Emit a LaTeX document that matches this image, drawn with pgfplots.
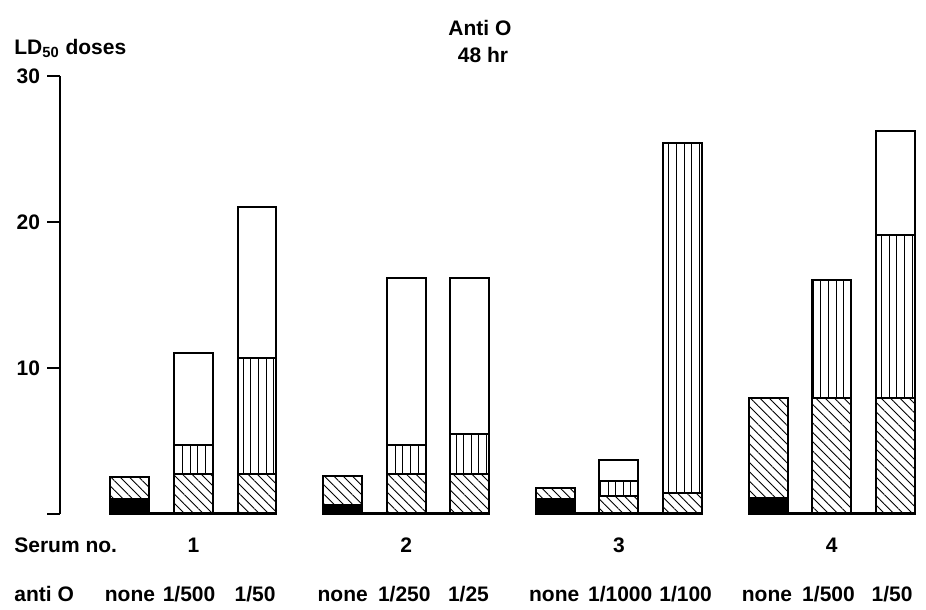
\documentclass[border=0pt]{standalone}
\usepackage{fontspec}
\setmainfont{Liberation Sans}
\usepackage{pgfplots}
\usepackage{pgfplotstable}
\pgfplotsset{compat=1.18}
\usetikzlibrary{patterns.meta}

\newcommand{\lbl}{\fontsize{10.5}{12.6}\selectfont\bfseries}

% x: bar position, then the four stacked parts of each bar
\pgfplotstableread{
x     black hatch vert  white
0     1.0   1.5   0     0
1     0     2.7   2.0   6.35
2     0     2.7   7.95  10.4
3.35  0.6   2.0   0     0
4.35  0     2.7   2.0   11.45
5.35  0     2.7   2.8   10.65
6.7   1.0   0.8   0     0
7.7   0     1.25  1.0   1.45
8.7   0     1.4   24.0  0
10.05 1.1   6.85  0     0
11.05 0     7.95  8.05  0
12.05 0     7.95  11.15 7.1
}\serum

\begin{document}
\begin{tikzpicture}
\begin{axis}[
    scale only axis,
    width=433pt, height=219pt,
    xmin=-1.102, xmax=12.535,
    ymin=0, ymax=30,
    axis y line*=left,
    axis x line=none,
    ybar stacked,
    bar width=0.614,
    ytick={0,10,20,30},
    yticklabels={,10,20,30},
    yticklabel style={font=\lbl},
    /pgf/number format/assume math mode=true,
    tick align=outside,
    major tick length=6.5pt,
    every tick/.style={black, line width=0.8pt},
    y axis line style={line width=1.2pt},
    clip=false,
]
\addplot[draw=black, line width=1pt, fill=black] table[x=x, y=black] {\serum};
\addplot[draw=black, line width=1pt, pattern={Lines[angle=-45, distance=3.3pt, line width=0.45pt]}] table[x=x, y=hatch] {\serum};
\addplot[draw=black, line width=1pt, pattern={Lines[angle=90, distance=3.8pt, line width=0.4pt]}] table[x=x, y=vert] {\serum};
\addplot[draw=black, line width=1pt, fill=white] table[x=x, y=white] {\serum};

% baselines under each serum group
\draw[line width=1.5pt] (axis cs:-0.31,0) -- (axis cs:2.31,0);
\draw[line width=1.5pt] (axis cs:3.04,0) -- (axis cs:5.66,0);
\draw[line width=1.5pt] (axis cs:6.39,0) -- (axis cs:9.01,0);
\draw[line width=1.5pt] (axis cs:9.74,0) -- (axis cs:12.36,0);

% titles
\node[anchor=base, font=\lbl] at (axis cs:5.51,32.75) {Anti O};
\node[anchor=base, font=\lbl] at (axis cs:5.56,30.95) {48 hr};
\node[anchor=base west, font=\lbl, inner sep=0pt] at (axis cs:-1.827,31.5) {LD\textsubscript{50} doses};

% serum numbers
\node[anchor=base west, font=\lbl, inner sep=0pt] at (axis cs:-1.827,-2.67) {Serum no.};
\node[anchor=base, font=\lbl] at (axis cs:1,-2.67) {1};
\node[anchor=base, font=\lbl] at (axis cs:4.35,-2.67) {2};
\node[anchor=base, font=\lbl] at (axis cs:7.7,-2.67) {3};
\node[anchor=base, font=\lbl] at (axis cs:11.05,-2.67) {4};

% antibody dilutions
\node[anchor=base west, font=\lbl, inner sep=0pt] at (axis cs:-1.827,-6.03) {anti O};
\node[anchor=base, font=\lbl] at (axis cs:0,-6.03) {none};
\node[anchor=base, font=\lbl] at (axis cs:0.93,-6.03) {1/500};
\node[anchor=base, font=\lbl] at (axis cs:1.97,-6.03) {1/50};
\node[anchor=base, font=\lbl] at (axis cs:3.35,-6.03) {none};
\node[anchor=base, font=\lbl] at (axis cs:4.32,-6.03) {1/250};
\node[anchor=base, font=\lbl] at (axis cs:5.33,-6.03) {1/25};
\node[anchor=base, font=\lbl] at (axis cs:6.68,-6.03) {none};
\node[anchor=base, font=\lbl] at (axis cs:7.72,-6.03) {1/1000};
\node[anchor=base, font=\lbl] at (axis cs:8.75,-6.03) {1/100};
\node[anchor=base, font=\lbl] at (axis cs:10.03,-6.03) {none};
\node[anchor=base, font=\lbl] at (axis cs:11.0,-6.03) {1/500};
\node[anchor=base, font=\lbl] at (axis cs:12.0,-6.03) {1/50};

% page extent
\path (axis cs:-2.047,-6.30) rectangle (axis cs:12.535,35.2);
\end{axis}
\end{tikzpicture}
\end{document}
